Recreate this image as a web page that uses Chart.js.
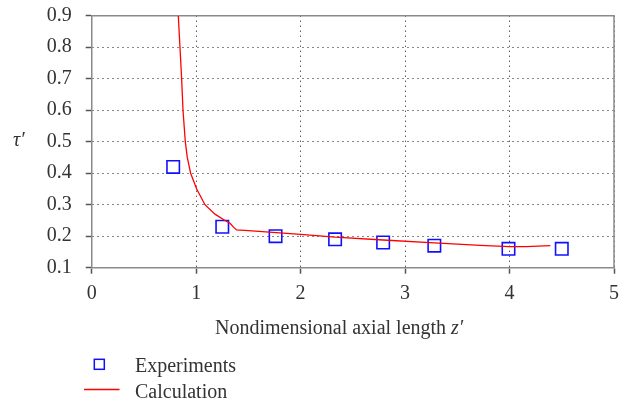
<!DOCTYPE html>
<html>
<head>
<meta charset="utf-8">
<script src="https://cdn.jsdelivr.net/npm/chart.js@4/dist/chart.umd.min.js"></script>
<style>
  html, body { margin: 0; padding: 0; background: #fff; }
  #wrap { width: 628px; height: 401px; }
</style>
</head>
<body>
<div id="wrap"><canvas id="c" width="628" height="401"></canvas></div>
<script>
// Measured shear stress τ′ along the axis
const expZ   = [0.78, 1.25, 1.76, 2.33, 2.79, 3.28, 3.99, 4.50];
const expTau = [0.42, 0.23, 0.20, 0.19, 0.18, 0.17, 0.16, 0.16];

// Computed τ′ curve
const calcZ   = [0.829, 0.845, 0.861, 0.874, 0.896, 0.915, 0.947, 1.005, 1.084, 1.18, 1.276,
                 1.324, 1.36, 1.387, 1.5, 1.7, 2.0, 2.33, 2.79, 3.28, 3.72, 4.0, 4.16, 4.39];
const calcTau = [0.90, 0.80, 0.70, 0.60, 0.50, 0.45, 0.40, 0.35, 0.30, 0.27, 0.25,
                 0.241, 0.228, 0.220, 0.218, 0.213, 0.206, 0.197, 0.188, 0.179, 0.171, 0.167, 0.167, 0.170];

// Axis ticks
const xTicks = [0, 1, 2, 3, 4, 5];
const yTicks = [0.1, 0.2, 0.3, 0.4, 0.5, 0.6, 0.7, 0.8, 0.9];
const yTickLabels = ['0.1', '0.2', '0.3', '0.4', '0.5', '0.6', '0.7', '0.8', '0.9'];

const xTitle = 'Nondimensional axial length ';
const xTitleVar = 'z′';
const yTitle = 'τ′';
const seriesNames = ['Experiments', 'Calculation'];

const FONT = '"Liberation Serif", "Times New Roman", serif';
const TEXT = '#333333';
const FRAME = '#8a8a8a';
const EXP_COLOR = '#1010ff';
const CALC_COLOR = '#ff0000';

const toPoints = (xs, ys) => xs.map((x, i) => ({ x, y: ys[i] }));

// Frame on top/right, axis titles and the legend block beneath the plot
const decorations = {
  id: 'decorations',
  beforeDatasetsDraw(chart) {
    const { ctx, chartArea: a } = chart;
    ctx.save();
    ctx.strokeStyle = FRAME;
    ctx.lineWidth = 1.5;
    ctx.beginPath();
    ctx.moveTo(a.left, a.top);
    ctx.lineTo(a.right, a.top);
    ctx.lineTo(a.right, a.bottom);
    ctx.stroke();
    ctx.restore();
  },
  afterDraw(chart) {
    const { ctx } = chart;
    ctx.save();
    ctx.fillStyle = TEXT;
    ctx.textBaseline = 'alphabetic';
    ctx.textAlign = 'left';

    // y title
    ctx.font = 'italic 20px ' + FONT;
    ctx.fillText(yTitle, 13, 146);

    // x title
    ctx.font = '20px ' + FONT;
    ctx.fillText(xTitle, 215, 334);
    const w = ctx.measureText(xTitle).width;
    ctx.font = 'italic 20px ' + FONT;
    ctx.fillText(xTitleVar, 215 + w, 334);

    // legend
    ctx.strokeStyle = EXP_COLOR;
    ctx.lineWidth = 1.5;
    ctx.strokeRect(99.3 - 5, 364.3 - 5, 10, 10);
    ctx.strokeStyle = CALC_COLOR;
    ctx.lineWidth = 1.3;
    ctx.beginPath();
    ctx.moveTo(84, 389.5);
    ctx.lineTo(119.5, 389.5);
    ctx.stroke();

    ctx.font = '20px ' + FONT;
    ctx.fillText(seriesNames[0], 135, 371.5);
    ctx.fillText(seriesNames[1], 135, 397.5);
    ctx.restore();
  }
};

new Chart(document.getElementById('c'), {
  type: 'scatter',
  data: {
    datasets: [
      {
        label: seriesNames[0],
        data: toPoints(expZ, expTau),
        pointStyle: 'rect',
        pointRadius: 8.8,
        pointHoverRadius: 8.8,
        borderColor: EXP_COLOR,
        backgroundColor: 'rgba(0,0,0,0)',
        pointBorderWidth: 1.6,
        showLine: false,
        order: 2
      },
      {
        label: seriesNames[1],
        data: toPoints(calcZ, calcTau),
        showLine: true,
        borderColor: CALC_COLOR,
        borderWidth: 1.3,
        pointRadius: 0,
        pointHoverRadius: 0,
        tension: 0,
        fill: false,
        order: 1
      }
    ]
  },
  options: {
    responsive: false,
    animation: false,
    events: [],
    layout: { padding: { left: 0, top: 15.7, right: 14, bottom: 0 } },
    plugins: {
      legend: { display: false },
      tooltip: { enabled: false }
    },
    scales: {
      x: {
        type: 'linear',
        min: 0,
        max: 5,
        afterBuildTicks: s => { s.ticks = xTicks.map(v => ({ value: v })); },
        afterFit: s => {
          s.height = 133.3;
          s.paddingLeft = 0;
          s.paddingRight = 0;
        },
        ticks: {
          color: TEXT,
          font: { family: FONT, size: 20 },
          padding: 8,
          maxRotation: 0,
          callback: v => String(v)
        },
        grid: {
          color: '#111',
          lineWidth: 1,
          tickLength: 6,
          tickColor: '#555',
          tickWidth: 1.5,
          tickBorderDash: []
        },
        border: { color: FRAME, width: 1.5, dash: [1, 4] }
      },
      y: {
        type: 'linear',
        min: 0.1,
        max: 0.9,
        afterBuildTicks: s => { s.ticks = yTicks.map(v => ({ value: v })); },
        afterFit: s => {
          s.width = 91.7;
          s.paddingTop = 0;
          s.paddingBottom = 0;
        },
        ticks: {
          color: TEXT,
          font: { family: FONT, size: 20 },
          padding: 14,
          callback: (v, i) => yTickLabels[i]
        },
        grid: {
          color: '#111',
          lineWidth: 1,
          tickLength: 6,
          tickColor: '#555',
          tickWidth: 1.5,
          tickBorderDash: []
        },
        border: { color: FRAME, width: 1.5, dash: [1, 4] }
      }
    }
  },
  plugins: [decorations]
});
</script>
</body>
</html>
